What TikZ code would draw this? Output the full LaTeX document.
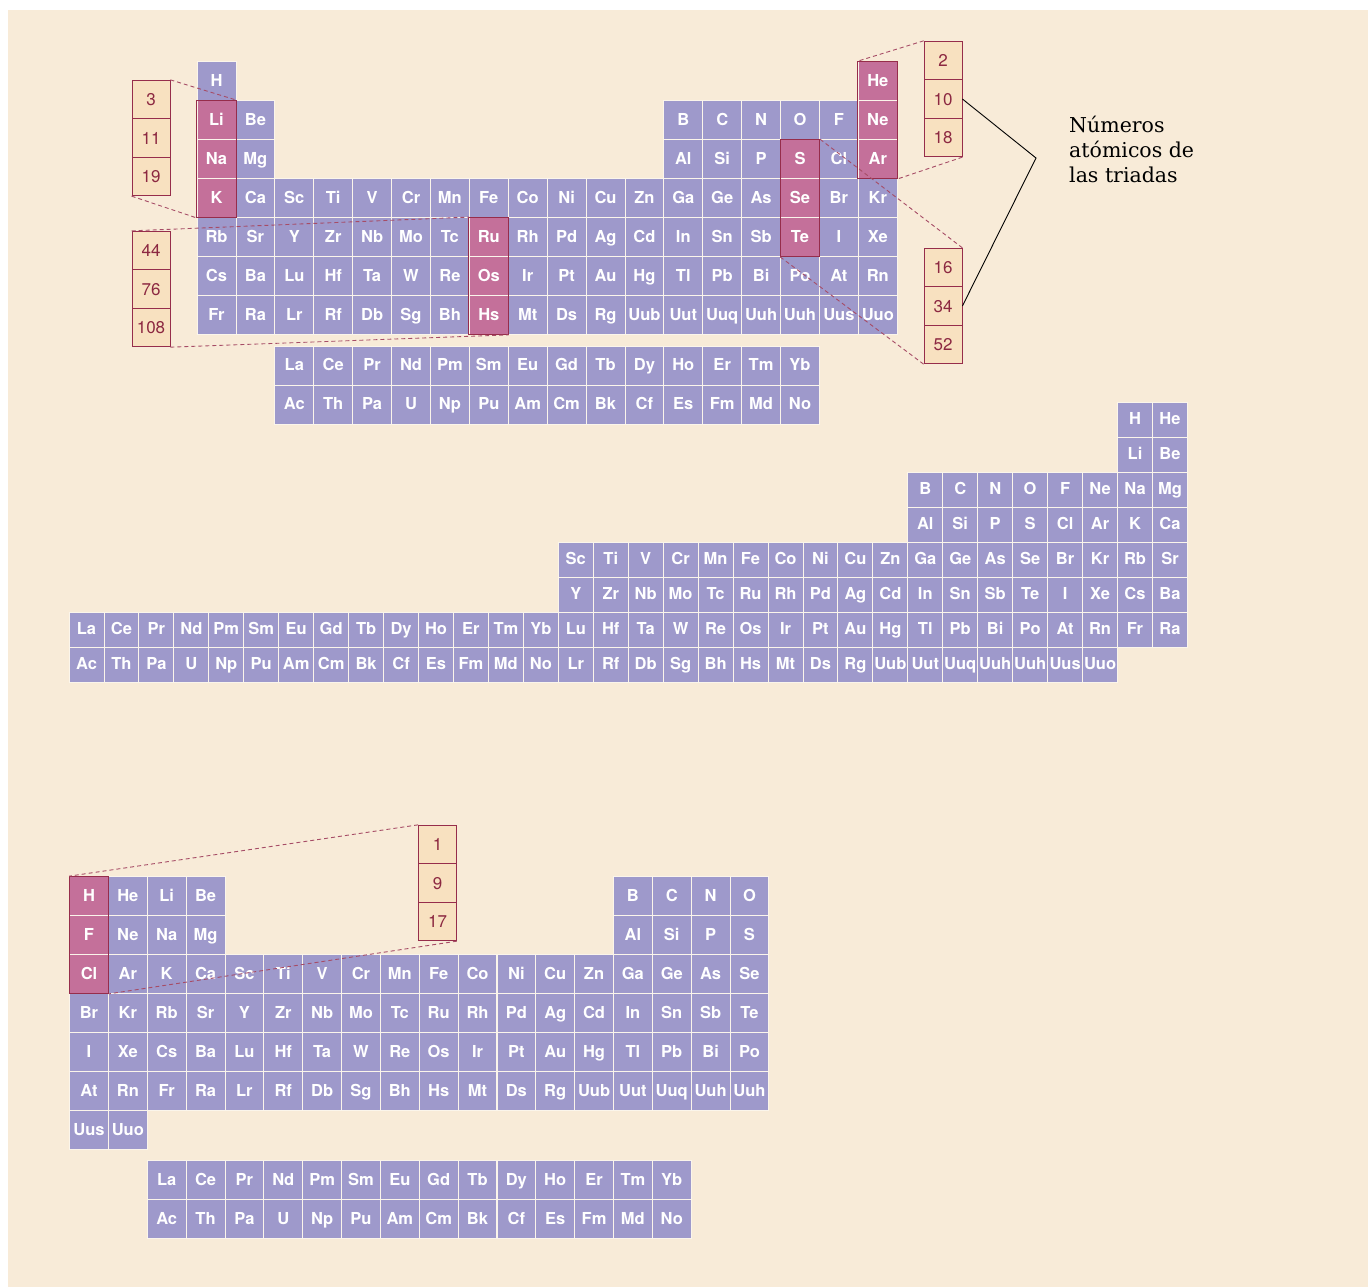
\documentclass[tikz,border=0pt]{standalone}
\usepackage{fontspec}
\newfontfamily\symfont{TeX Gyre Heros}
\newfontfamily\notefont{DejaVu Serif}

\definecolor{bgcol}{RGB}{248,235,216}
\definecolor{elemcol}{RGB}{158,153,203}
\definecolor{hotcol}{RGB}{196,112,154}
\definecolor{boxcol}{RGB}{248,225,192}
\definecolor{linecol}{RGB}{150,45,75}
\definecolor{numcol}{RGB}{140,40,65}

\tikzset{
  elem/.style={fill=elemcol, draw=bgcol!50!white, line width=0.9pt, text=white,
    inner sep=0pt, minimum size=#1, text height=11.9pt, text depth=1pt,
    font=\symfont\bfseries\fontsize{16.5}{18}\selectfont},
  elem/.default=38.9pt,
  hot/.style={fill=hotcol},
  % triads
  hot-a-2-1/.style={hot}, hot-a-3-1/.style={hot}, hot-a-4-1/.style={hot},
  hot-a-1-18/.style={hot}, hot-a-2-18/.style={hot}, hot-a-3-18/.style={hot},
  hot-a-3-16/.style={hot}, hot-a-4-16/.style={hot}, hot-a-5-16/.style={hot},
  hot-a-5-8/.style={hot}, hot-a-6-8/.style={hot}, hot-a-7-8/.style={hot},
  hot-c-1-1/.style={hot}, hot-c-2-1/.style={hot}, hot-c-3-1/.style={hot},
  grp/.style={draw=linecol, line width=1.1pt},
  numbox/.style={fill=boxcol, draw=linecol, line width=0.8pt, text=numcol,
    inner sep=0pt, minimum width=38pt, minimum height=38.5pt,
    text height=12.3pt, text depth=0pt,
    font=\symfont\fontsize{17}{19}\selectfont},
  guide/.style={draw=linecol!85!white, line width=0.9pt, dash pattern=on 4pt off 3pt}
}

\begin{document}
\begin{tikzpicture}[x=1pt,y=-1pt]
    \useasboundingbox (0,0) rectangle (1368,1287);
    \fill[white] (0,0) rectangle (1368,1287);
    \fill[bgcol] (8,10) rectangle (1368,1287);

    % first table
    \foreach \row/\start/\lst in {
      1/1/{H}, 1/18/{He},
      2/1/{Li,Be}, 2/13/{B,C,N,O,F,Ne},
      3/1/{Na,Mg}, 3/13/{Al,Si,P,S,Cl,Ar},
      4/1/{K,Ca,Sc,Ti,V,Cr,Mn,Fe,Co,Ni,Cu,Zn,Ga,Ge,As,Se,Br,Kr},
      5/1/{Rb,Sr,Y,Zr,Nb,Mo,Tc,Ru,Rh,Pd,Ag,Cd,In,Sn,Sb,Te,I,Xe},
      6/1/{Cs,Ba,Lu,Hf,Ta,W,Re,Os,Ir,Pt,Au,Hg,Tl,Pb,Bi,Po,At,Rn},
      7/1/{Fr,Ra,Lr,Rf,Db,Sg,Bh,Hs,Mt,Ds,Rg,Uub,Uut,Uuq,Uuh,Uuh,Uus,Uuo},
      8/3/{La,Ce,Pr,Nd,Pm,Sm,Eu,Gd,Tb,Dy,Ho,Er,Tm,Yb},
      9/3/{Ac,Th,Pa,U,Np,Pu,Am,Cm,Bk,Cf,Es,Fm,Md,No}}
      \foreach \sym [count=\col from \start] in \lst
        \node[elem, hot-a-\row-\col/.try] (a-\row-\col)
          at ({216.5+38.9*(\col-1)}, {81+39*(\row-1)+11.5*(\row>7)}) {\sym};

    % second table
    \foreach \row/\start/\lst in {
      1/31/{H,He}, 2/31/{Li,Be},
      3/25/{B,C,N,O,F,Ne,Na,Mg},
      4/25/{Al,Si,P,S,Cl,Ar,K,Ca},
      5/15/{Sc,Ti,V,Cr,Mn,Fe,Co,Ni,Cu,Zn,Ga,Ge,As,Se,Br,Kr,Rb,Sr},
      6/15/{Y,Zr,Nb,Mo,Tc,Ru,Rh,Pd,Ag,Cd,In,Sn,Sb,Te,I,Xe,Cs,Ba},
      7/1/{La,Ce,Pr,Nd,Pm,Sm,Eu,Gd,Tb,Dy,Ho,Er,Tm,Yb,Lu,Hf,Ta,W,Re,Os,Ir,Pt,Au,Hg,Tl,Pb,Bi,Po,At,Rn,Fr,Ra},
      8/1/{Ac,Th,Pa,U,Np,Pu,Am,Cm,Bk,Cf,Es,Fm,Md,No,Lr,Rf,Db,Sg,Bh,Hs,Mt,Ds,Rg,Uub,Uut,Uuq,Uuh,Uuh,Uus,Uuo}}
      \foreach \sym [count=\col from \start] in \lst
        \node[elem=35pt] (b-\row-\col)
          at ({86.5+34.95*(\col-1)}, {419.5+35*(\row-1)}) {\sym};

    % third table
    \foreach \row/\start/\lst in {
      1/1/{H,He,Li,Be}, 1/15/{B,C,N,O},
      2/1/{F,Ne,Na,Mg}, 2/15/{Al,Si,P,S},
      3/1/{Cl,Ar,K,Ca,Sc,Ti,V,Cr,Mn,Fe,Co,Ni,Cu,Zn,Ga,Ge,As,Se},
      4/1/{Br,Kr,Rb,Sr,Y,Zr,Nb,Mo,Tc,Ru,Rh,Pd,Ag,Cd,In,Sn,Sb,Te},
      5/1/{I,Xe,Cs,Ba,Lu,Hf,Ta,W,Re,Os,Ir,Pt,Au,Hg,Tl,Pb,Bi,Po},
      6/1/{At,Rn,Fr,Ra,Lr,Rf,Db,Sg,Bh,Hs,Mt,Ds,Rg,Uub,Uut,Uuq,Uuh,Uuh},
      7/1/{Uus,Uuo},
      8/3/{La,Ce,Pr,Nd,Pm,Sm,Eu,Gd,Tb,Dy,Ho,Er,Tm,Yb},
      9/3/{Ac,Th,Pa,U,Np,Pu,Am,Cm,Bk,Cf,Es,Fm,Md,No}}
      \foreach \sym [count=\col from \start] in \lst
        \node[elem=38.8pt, hot-c-\row-\col/.try] (c-\row-\col)
          at ({89+38.85*(\col-1)}, {896+39*(\row-1)+11*(\row>7)}) {\sym};

    % outlines of the triads
    \draw[grp] (a-2-1.north west) rectangle (a-4-1.south east);
    \draw[grp] (a-1-18.north west) rectangle (a-3-18.south east);
    \draw[grp] (a-3-16.north west) rectangle (a-5-16.south east);
    \draw[grp] (a-5-8.north west) rectangle (a-7-8.south east);
    \draw[grp] (c-1-1.north west) rectangle (c-3-1.south east);

    % atomic numbers
    \foreach \v [count=\k] in {3,11,19}
      \node[numbox] (ali-\k) at (151, {99.5+38.5*(\k-1)}) {\v};
    \foreach \v [count=\k] in {44,76,108}
      \node[numbox] (rut-\k) at (151, {250.5+38.5*(\k-1)}) {\v};
    \foreach \v [count=\k] in {2,10,18}
      \node[numbox] (gas-\k) at (943, {60.5+38.5*(\k-1)}) {\v};
    \foreach \v [count=\k] in {16,34,52}
      \node[numbox] (sul-\k) at (943, {267.5+38.5*(\k-1)}) {\v};
    \foreach \v [count=\k] in {1,9,17}
      \node[numbox] (hal-\k) at (437.5, {844.5+38.5*(\k-1)}) {\v};

    \draw[guide] (ali-1.north east) -- (a-2-1.north east);
    \draw[guide] (ali-3.south west) -- (a-4-1.south west);
    \draw[guide] (rut-1.north west) -- (a-5-8.north west);
    \draw[guide] (rut-3.south east) -- (a-7-8.south east);
    \draw[guide] (gas-1.north west) -- (a-1-18.north west);
    \draw[guide] (gas-3.south east) -- (a-3-18.south east);
    \draw[guide] (sul-1.north east) -- (a-3-16.north east);
    \draw[guide] (sul-3.south west) -- (a-5-16.south west);
    \draw[guide] (hal-1.north west) -- (c-1-1.north west);
    \draw[guide] (hal-3.south east) -- (c-3-1.south east);

    % label
    \coordinate (apex) at (1036,158);
    \draw[line width=0.9pt] (gas-2.east) -- (apex) -- (sul-2.east);
    \node[anchor=north west, align=left, inner sep=0pt,
      font=\notefont\fontsize{20.5}{25}\selectfont] (note) at (1069,116)
      {Números\\atómicos de\\las triadas};
  \end{tikzpicture}
\end{document}
